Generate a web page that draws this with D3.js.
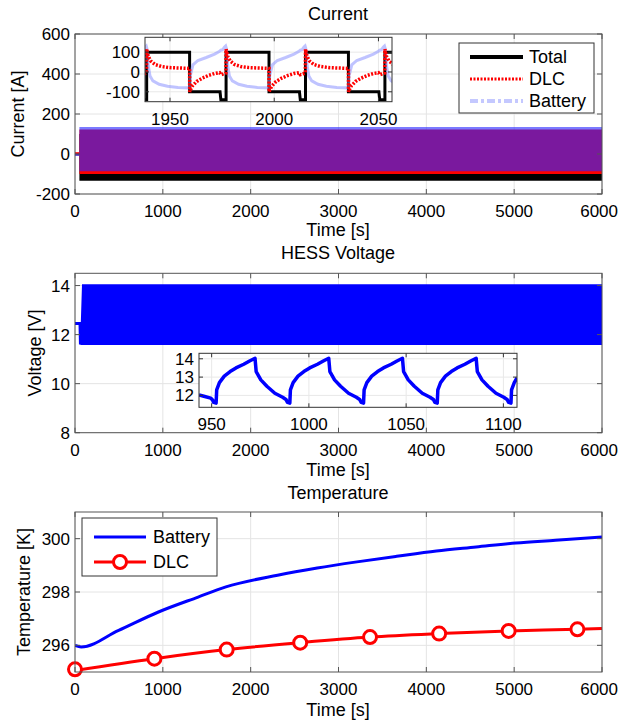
<!DOCTYPE html>
<html>
<head>
<meta charset="utf-8">
<script src="https://cdn.jsdelivr.net/npm/d3@7"></script>
<style>
body { margin: 0; background: #fff; }
text { font-family: "Liberation Sans", Arial, sans-serif; fill: #000; }
</style>
</head>
<body>
<div id="chart"></div>
<script>
// ---------- data ----------
var timeTicks = [0, 1000, 2000, 3000, 4000, 5000, 6000];
var currentTicks = [-200, 0, 200, 400, 600];
var voltTicks = [8, 10, 12, 14];
var tempTicks = [296, 298, 300];

// current, full run: start segment then a dense band (envelope of each series)
var curPreTime = [0, 50];
var totalPre = [0, 0];
var dlcPre = [4, 4];
var battPre = [-4, -4];
var curBandTime = [50, 6000];
var totalUpper = [100, 100];
var totalLower = [-134, -134];
var dlcUpper = [122, 122];
var dlcLower = [-100, -100];
var battUpper = [135, 135];
var battLower = [-86, -86];

// current, zoom window 1938..2056 s  [time, A]
var curInsetTicksX = [1950, 2000, 2050];
var curInsetTicksY = [-100, 0, 100];
var totalInset = [[1937.5,-140],[1938.8,-140],[1938.8,100],[1959.4,100],[1959.4,-100],[1974.0,-100],[1974.4,-140],
  [1976.9,-140],[1976.9,100],[1997.5,100],[1997.5,-100],[2012.1,-100],[2012.5,-140],[2015.0,-140],[2015.0,100],
  [2035.6,100],[2035.6,-100],[2050.2,-100],[2050.6,-140],[2053.1,-140],[2053.1,100],[2057,100]];
var dlcInset = [[1937.5,-10],[1938.7,-5],
  [1938.8,115],[1939.5,80],[1940.8,55],[1942.8,38],[1945.8,28],[1949.8,22],[1954.8,20],[1959.4,18],
  [1959.45,-100],[1959.9,-88],[1960.8,-70],[1962.8,-48],[1965.3,-32],[1968.3,-18],[1971.3,-8],[1973.8,-4],[1974.4,-14],[1975.6,-10],[1976.8,-5],
  [1976.9,115],[1977.6,80],[1978.9,55],[1980.9,38],[1983.9,28],[1987.9,22],[1992.9,20],[1997.5,18],
  [1997.55,-100],[1998.0,-88],[1998.9,-70],[2000.9,-48],[2003.4,-32],[2006.4,-18],[2009.4,-8],[2011.9,-4],[2012.5,-14],[2013.7,-10],[2014.9,-5],
  [2015.0,115],[2015.7,80],[2017.0,55],[2019.0,38],[2022.0,28],[2026.0,22],[2031.0,20],[2035.6,18],
  [2035.65,-100],[2036.1,-88],[2037.0,-70],[2039.0,-48],[2041.5,-32],[2044.5,-18],[2047.5,-8],[2050.0,-4],[2050.6,-14],[2051.8,-10],[2053.0,-5],
  [2053.1,115],[2053.8,80],[2055.1,55],[2057.1,38]];
var battInset = [[1937.1,112],[1938.1,126],[1938.6,131],
  [1938.9,120],[1939.6,30],[1940.4,-20],[1941.8,-45],[1944.8,-62],[1948.8,-72],[1953.8,-78],[1959.4,-80],
  [1959.7,-20],[1961.0,36],[1963.4,58],[1967.4,73],[1971.4,90],[1973.6,103],[1974.4,110],[1975.2,112],[1976.2,126],[1976.7,131],
  [1977.0,120],[1977.7,30],[1978.5,-20],[1979.9,-45],[1982.9,-62],[1986.9,-72],[1991.9,-78],[1997.5,-80],
  [1997.8,-20],[1999.1,36],[2001.5,58],[2005.5,73],[2009.5,90],[2011.7,103],[2012.5,110],[2013.3,112],[2014.3,126],[2014.8,131],
  [2015.1,120],[2015.8,30],[2016.6,-20],[2018.0,-45],[2021.0,-62],[2025.0,-72],[2030.0,-78],[2035.6,-80],
  [2035.9,-20],[2037.2,36],[2039.6,58],[2043.6,73],[2047.6,90],[2049.8,103],[2050.6,110],[2051.4,112],[2052.4,126],[2052.9,131],
  [2053.2,120],[2053.9,30],[2054.7,-20],[2056.1,-45],[2059.1,-62]];

// voltage, full run
var voltPreTime = [0, 57, 62];
var voltPre = [12.45, 12.45, 11.6];
var voltBandTime = [62, 80, 6000];
var voltUpper = [12.0, 14.05, 14.05];
var voltLower = [11.58, 11.58, 11.58];

// voltage, zoom window 943..1107 s  [time, V]
var voltInsetTicksX = [950, 1000, 1050, 1100];
var voltInsetTicksY = [12, 13, 14];
var voltInset = [[943.5,12.02],[946,11.95],[949.5,11.85],[950.5,11.75],[951,11.62],[952.3,11.58],
  [952.6,12.3],[954,12.7],[956.5,13.05],[959.5,13.3],[962.5,13.5],[966.5,13.7],[969.5,13.88],[972.3,14.03],
  [972.9,13.3],[975.3,12.85],[978.4,12.5],[982.5,12.12],[986.5,11.9],[988.2,11.78],[989,11.62],[990.2,11.58],
  [990.5,12.3],[991.9,12.7],[994.4,13.05],[997.4,13.3],[1000.4,13.5],[1004.4,13.7],[1007.4,13.88],[1010.2,14.03],
  [1010.8,13.3],[1013.2,12.85],[1016.3,12.5],[1020.4,12.12],[1024.4,11.9],[1026.1,11.78],[1026.9,11.62],[1028.1,11.58],
  [1028.4,12.3],[1029.8,12.7],[1032.3,13.05],[1035.3,13.3],[1038.3,13.5],[1042.3,13.7],[1045.3,13.88],[1048.1,14.03],
  [1048.7,13.3],[1051.1,12.85],[1054.2,12.5],[1058.3,12.12],[1062.3,11.9],[1064,11.78],[1064.8,11.62],[1066,11.58],
  [1066.3,12.3],[1067.7,12.7],[1070.2,13.05],[1073.2,13.3],[1076.2,13.5],[1080.2,13.7],[1083.2,13.88],[1086,14.03],
  [1086.6,13.3],[1089,12.85],[1092.1,12.5],[1096.2,12.12],[1100.2,11.9],[1101.9,11.78],[1102.7,11.62],[1103.9,11.58],
  [1104.2,12.3],[1105.6,12.7],[1107,12.95]];

// temperature
var battTempTime = [0, 70, 497, 950, 1402, 1718, 2306, 2758, 3210, 3662, 4115, 4567, 5019, 5471, 6000];
var battTemp = [296.0, 295.94, 296.56, 297.25, 297.81, 298.19, 298.63, 298.9, 299.13, 299.34, 299.54, 299.69, 299.84, 299.94, 300.06];
var dlcTempTime = [0, 904, 1727, 2564, 3359, 4146, 4937, 5720, 6000];
var dlcTemp = [295.06, 295.5, 295.84, 296.1, 296.31, 296.44, 296.54, 296.6, 296.63];
var dlcMarkerTime = [0, 904, 1727, 2564, 3359, 4146, 4937, 5720];
var dlcMarkerTemp = [295.1, 295.5, 295.84, 296.1, 296.31, 296.44, 296.54, 296.6];

// ---------- drawing ----------
var W = 619, H = 721;
var svg = d3.select('#chart').append('svg').attr('width', W).attr('height', H);
var clipId = 0;

function fmt(v) { return String(v); }

// background + grid of an axes
function axesBack(x, y, xTicks, yTicks, gridColor) {
  var g = svg.append('g');
  var r = { x0: x.range()[0], x1: x.range()[1], y0: y.range()[0], y1: y.range()[1] };
  g.append('rect').attr('x', r.x0).attr('y', r.y1).attr('width', r.x1 - r.x0).attr('height', r.y0 - r.y1).attr('fill', '#fff');
  g.selectAll('.gx').data(xTicks).enter().append('line')
    .attr('x1', function(d) { return x(d); }).attr('x2', function(d) { return x(d); })
    .attr('y1', r.y1).attr('y2', r.y0)
    .attr('stroke', gridColor).attr('stroke-width', 1);
  g.selectAll('.gy').data(yTicks).enter().append('line')
    .attr('y1', function(d) { return y(d); }).attr('y2', function(d) { return y(d); })
    .attr('x1', r.x0).attr('x2', r.x1)
    .attr('stroke', gridColor).attr('stroke-width', 1);
  // clip for the data
  clipId++;
  svg.append('clipPath').attr('id', 'clip' + clipId).append('rect')
    .attr('x', r.x0).attr('y', r.y1).attr('width', r.x1 - r.x0).attr('height', r.y0 - r.y1);
  return svg.append('g').attr('clip-path', 'url(#clip' + clipId + ')');
}

// box, tick marks and tick labels
function axesFront(x, y, xTicks, yTicks, boxColor, tickLen) {
  var g = svg.append('g');
  var x0 = x.range()[0], x1 = x.range()[1], y0 = y.range()[0], y1 = y.range()[1];
  xTicks.forEach(function(t) {
    g.append('line').attr('x1', x(t)).attr('x2', x(t)).attr('y1', y0).attr('y2', y0 - tickLen).attr('stroke', boxColor);
    g.append('line').attr('x1', x(t)).attr('x2', x(t)).attr('y1', y1).attr('y2', y1 + tickLen).attr('stroke', boxColor);
    var lab = g.append('text').attr('x', x(t)).attr('y', y0 + 23).attr('text-anchor', 'middle')
      .style('font-size', '17px').text(fmt(t));
    // keep the last label inside the page, as in the figure
    var bb = lab.node().getBBox();
    if (bb.x + bb.width > W - 1) lab.attr('text-anchor', 'end').attr('x', W - 1);
  });
  yTicks.forEach(function(t) {
    g.append('line').attr('y1', y(t)).attr('y2', y(t)).attr('x1', x0).attr('x2', x0 + tickLen).attr('stroke', boxColor);
    g.append('line').attr('y1', y(t)).attr('y2', y(t)).attr('x1', x1).attr('x2', x1 - tickLen).attr('stroke', boxColor);
    g.append('text').attr('x', x0 - 5).attr('y', y(t) + 6).attr('text-anchor', 'end')
      .style('font-size', '17px').text(fmt(t));
  });
  g.append('rect').attr('x', x0).attr('y', y1).attr('width', x1 - x0).attr('height', y0 - y1)
    .attr('fill', 'none').attr('stroke', boxColor).attr('stroke-width', 1);
  return g;
}

function labels(cx, titleY, title, xlabY, ylab, ylabX, ylabY) {
  svg.append('text').attr('x', cx).attr('y', titleY).attr('text-anchor', 'middle')
    .attr('dominant-baseline', 'central').style('font-size', '18px').text(title);
  svg.append('text').attr('x', cx).attr('y', xlabY).attr('text-anchor', 'middle')
    .attr('dominant-baseline', 'central').style('font-size', '18px').text('Time [s]');
  svg.append('text').attr('transform', 'translate(' + ylabX + ',' + ylabY + ') rotate(-90)')
    .attr('text-anchor', 'middle').attr('dominant-baseline', 'central')
    .style('font-size', '18px').text(ylab);
}

function pairLine(x, y) {
  return d3.line().x(function(d) { return x(d[0]); }).y(function(d) { return y(d[1]); });
}

function band(x, y, time, upper, lower) {
  return d3.area()
    .x(function(d) { return x(d[0]); })
    .y0(function(d) { return y(d[2]); })
    .y1(function(d) { return y(d[1]); })(d3.zip(time, upper, lower));
}

var boxGray = '#555', gridGray = '#e4e4e4';

// ===== Current =====
var x1s = d3.scaleLinear().domain([0, 6000]).range([75, 602]);
var y1s = d3.scaleLinear().domain([-200, 600]).range([194, 34]);
var p1 = axesBack(x1s, y1s, timeTicks, currentTicks, gridGray);
var l1 = pairLine(x1s, y1s);
p1.append('path').attr('d', band(x1s, y1s, curBandTime, totalUpper, totalLower)).attr('fill', '#000');
p1.append('path').attr('d', l1(d3.zip(curPreTime, totalPre))).attr('fill', 'none').attr('stroke', '#000').attr('stroke-width', 2);
p1.append('path').attr('d', band(x1s, y1s, curBandTime, dlcUpper, dlcLower)).attr('fill', '#ff0000');
p1.append('path').attr('d', l1(d3.zip(curPreTime, dlcPre))).attr('fill', 'none').attr('stroke', '#ff0000').attr('stroke-width', 2);
p1.append('path').attr('d', band(x1s, y1s, curBandTime, battUpper, battLower)).attr('fill', 'rgb(40,40,255)').attr('fill-opacity', 0.62);
p1.append('path').attr('d', l1(d3.zip(curPreTime, battPre))).attr('fill', 'none').attr('stroke', 'rgb(70,40,200)').attr('stroke-width', 2);
axesFront(x1s, y1s, timeTicks, currentTicks, boxGray, 5);
labels(338, 14, 'Current', 230, 'Current [A]', 18, 114);

// inset
var xi1 = d3.scaleLinear().domain([1938, 2056.5]).range([145, 392]);
var yi1 = d3.scaleLinear().domain([-150, 175]).range([101.7, 37.3]);
var q1 = axesBack(xi1, yi1, curInsetTicksX, curInsetTicksY, '#e8e8e8');
var li1 = pairLine(xi1, yi1);
q1.append('path').attr('d', li1(totalInset)).attr('fill', 'none').attr('stroke', '#000').attr('stroke-width', 3);
q1.append('path').attr('d', li1(battInset)).attr('fill', 'none').attr('stroke', '#8a92ff').attr('stroke-width', 3).attr('stroke-opacity', 0.55);
q1.append('path').attr('d', li1(dlcInset)).attr('fill', 'none').attr('stroke', '#ff0000').attr('stroke-width', 3.5).attr('stroke-dasharray', '2,1.5');
axesFront(xi1, yi1, curInsetTicksX, curInsetTicksY, '#333', 4);

// legend
var lg1 = svg.append('g');
lg1.append('rect').attr('x', 459).attr('y', 43).attr('width', 135).attr('height', 70).attr('fill', '#fff').attr('stroke', '#333');
var leg1 = [
  { name: 'Total', y: 57, color: '#000', w: 4, dash: null },
  { name: 'DLC', y: 79, color: '#ff0000', w: 3, dash: '2,1.5' },
  { name: 'Battery', y: 101, color: '#c4c8ff', w: 4, dash: '8,3,3,3' }
];
leg1.forEach(function(d) {
  lg1.append('line').attr('x1', 470).attr('x2', 523).attr('y1', d.y).attr('y2', d.y)
    .attr('stroke', d.color).attr('stroke-width', d.w).attr('stroke-dasharray', d.dash);
  lg1.append('text').attr('x', 529).attr('y', d.y).attr('dominant-baseline', 'central')
    .style('font-size', '18px').text(d.name);
});

// ===== HESS Voltage =====
var x2s = d3.scaleLinear().domain([0, 6000]).range([75, 602]);
var y2s = d3.scaleLinear().domain([8, 14.5]).range([432.7, 273.3]);
var p2 = axesBack(x2s, y2s, timeTicks, voltTicks, gridGray);
var l2 = pairLine(x2s, y2s);
p2.append('path').attr('d', band(x2s, y2s, voltBandTime, voltUpper, voltLower)).attr('fill', '#0000ff');
p2.append('path').attr('d', l2(d3.zip(voltPreTime, voltPre))).attr('fill', 'none').attr('stroke', '#0000ff').attr('stroke-width', 3);
axesFront(x2s, y2s, timeTicks, voltTicks, boxGray, 5);
labels(338, 253, 'HESS Voltage', 470, 'Voltage [V]', 35, 353);

var xi2 = d3.scaleLinear().domain([943.5, 1107]).range([199, 517]);
var yi2 = d3.scaleLinear().domain([11.35, 14.3]).range([407.3, 353.3]);
var q2 = axesBack(xi2, yi2, voltInsetTicksX, voltInsetTicksY, '#e8e8e8');
q2.append('path').attr('d', pairLine(xi2, yi2)(voltInset)).attr('fill', 'none').attr('stroke', '#0000ff').attr('stroke-width', 3.5)
  .attr('stroke-linejoin', 'round');
axesFront(xi2, yi2, voltInsetTicksX, voltInsetTicksY, '#333', 4);

// ===== Temperature =====
var x3s = d3.scaleLinear().domain([0, 6000]).range([75, 602]);
var y3s = d3.scaleLinear().domain([295, 301]).range([672, 512]);
var p3 = axesBack(x3s, y3s, timeTicks, tempTicks, gridGray);
var l3 = d3.line().curve(d3.curveMonotoneX)
  .x(function(d) { return x3s(d[0]); }).y(function(d) { return y3s(d[1]); });
p3.append('path').attr('d', l3(d3.zip(battTempTime, battTemp))).attr('fill', 'none').attr('stroke', '#0000ff').attr('stroke-width', 3);
p3.append('path').attr('d', l3(d3.zip(dlcTempTime, dlcTemp))).attr('fill', 'none').attr('stroke', '#ff0000').attr('stroke-width', 3);
svg.append('g').selectAll('circle').data(d3.zip(dlcMarkerTime, dlcMarkerTemp)).enter().append('circle')
  .attr('cx', function(d) { return x3s(d[0]); }).attr('cy', function(d) { return y3s(d[1]); })
  .attr('r', 6.5).attr('fill', '#fff').attr('stroke', '#ff0000').attr('stroke-width', 3);
axesFront(x3s, y3s, timeTicks, tempTicks, boxGray, 5);
labels(338, 493, 'Temperature', 710, 'Temperature [K]', 24, 592);

var lg3 = svg.append('g');
lg3.append('rect').attr('x', 82).attr('y', 518).attr('width', 135).attr('height', 58).attr('fill', '#fff').attr('stroke', '#333');
lg3.append('line').attr('x1', 94).attr('x2', 146).attr('y1', 537).attr('y2', 537).attr('stroke', '#0000ff').attr('stroke-width', 3);
lg3.append('text').attr('x', 153).attr('y', 537).attr('dominant-baseline', 'central').style('font-size', '18px').text('Battery');
lg3.append('line').attr('x1', 94).attr('x2', 146).attr('y1', 562).attr('y2', 562).attr('stroke', '#ff0000').attr('stroke-width', 3);
lg3.append('circle').attr('cx', 120).attr('cy', 562).attr('r', 6.5).attr('fill', '#fff').attr('stroke', '#ff0000').attr('stroke-width', 3);
lg3.append('text').attr('x', 153).attr('y', 562).attr('dominant-baseline', 'central').style('font-size', '18px').text('DLC');
</script>
</body>
</html>
